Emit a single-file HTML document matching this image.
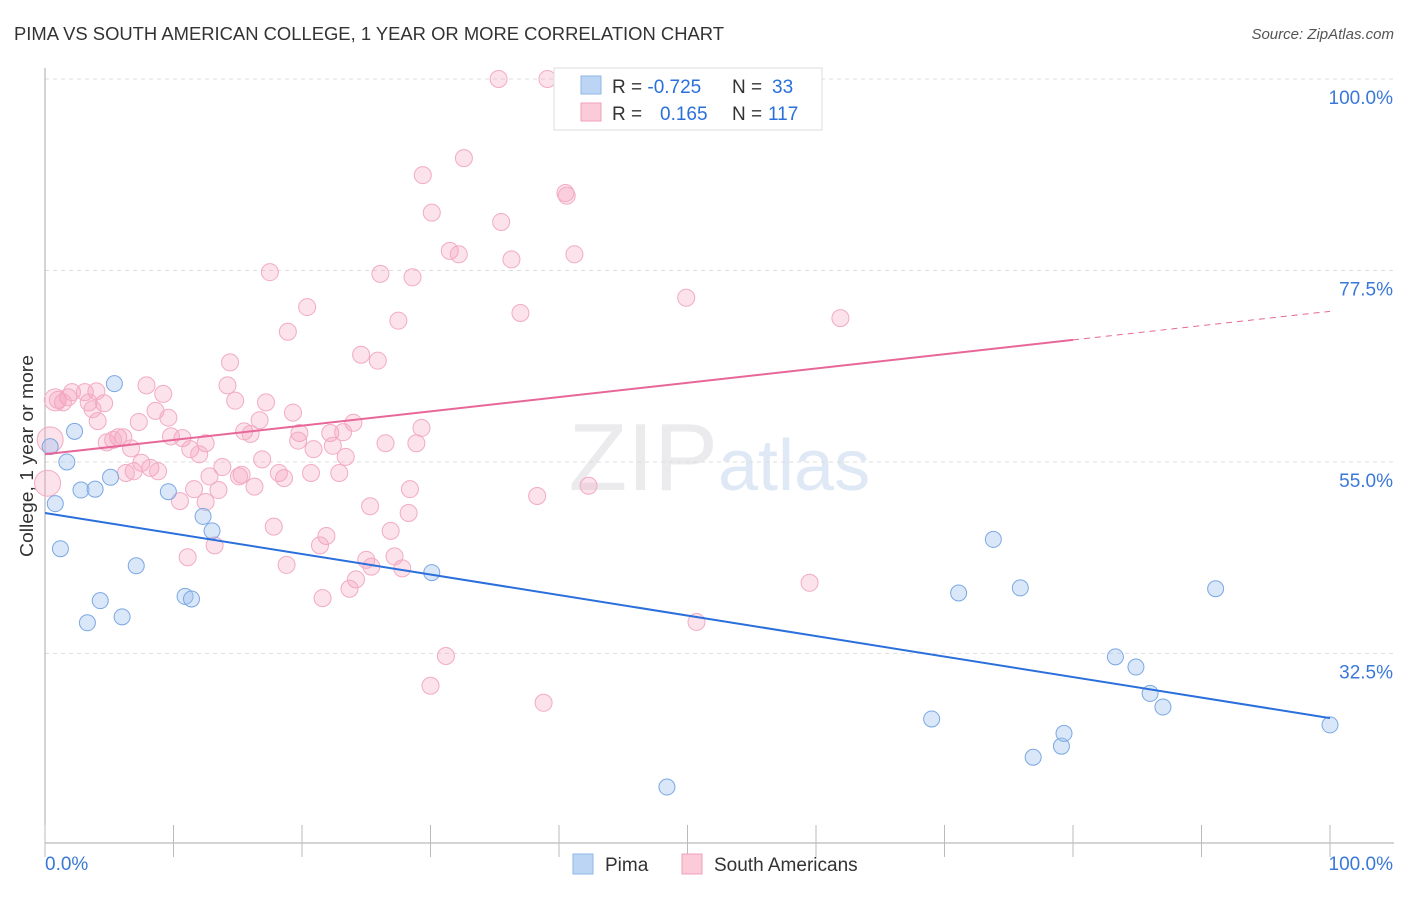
<!DOCTYPE html>
<html><head><meta charset="utf-8"><style>
body{margin:0;background:#fff;font-family:"Liberation Sans",sans-serif}
svg text{font-family:"Liberation Sans",sans-serif}
</style></head><body>
<svg id="chart" width="1406" height="892" xmlns="http://www.w3.org/2000/svg">
<text x="14" y="40" font-size="18" fill="#333" textLength="710" lengthAdjust="spacingAndGlyphs">PIMA VS SOUTH AMERICAN COLLEGE, 1 YEAR OR MORE CORRELATION CHART</text>
<text x="1394" y="39" font-size="15" fill="#555" font-style="italic" text-anchor="end">Source: ZipAtlas.com</text>
<text x="718" y="490" font-size="96" fill="#ebebee" text-anchor="end" font-family="Liberation Serif">ZIP</text>
<text x="718" y="490" font-size="72" fill="#dfe9f6">atlas</text>
<g id="grid"></g><g id="axes"></g><g id="pink"></g><g id="blue"></g><g id="lines"></g>
<text x="33" y="456" font-size="18" fill="#333" text-anchor="middle" transform="rotate(-90 33 456)" textLength="202" lengthAdjust="spacingAndGlyphs">College, 1 year or more</text>
<g>
<rect x="554" y="68" width="268" height="62" fill="#fff" stroke="#ddd"/>
<rect x="581" y="76" width="20" height="18" fill="#bcd5f5" stroke="#8fb6e8"/>
<rect x="581" y="103" width="20" height="18" fill="#fbcbd9" stroke="#f0a0ba"/>
<text x="612" y="93" font-size="19" fill="#333">R = <tspan fill="#2a6fdb">-0.725</tspan><tspan x="732">N = </tspan><tspan fill="#2a6fdb" x="772">33</tspan></text>
<text x="612" y="120" font-size="19" fill="#333">R = <tspan fill="#2a6fdb" x="660">0.165</tspan><tspan x="732">N = </tspan><tspan fill="#2a6fdb" x="768">117</tspan></text>
</g>
<g>
<rect x="573" y="854" width="20" height="20" fill="#bcd5f5" stroke="#8fb6e8"/>
<text x="605" y="871" font-size="19" fill="#333">Pima</text>
<rect x="682" y="854" width="20" height="20" fill="#fbcbd9" stroke="#f0a0ba"/>
<text x="714" y="871" font-size="19" fill="#333">South Americans</text>
</g>
</svg>
<script>
const blueX=[0.4,0.8,1.2,1.7,2.3,2.8,3.3,3.9,4.3,5.1,5.4,6.0,7.1,9.6,10.9,11.4,12.3,13.0,30.1,48.4,69.0,71.1,73.8,75.9,76.9,79.1,79.3,83.3,84.9,86.0,87.0,91.1,100];
const blueY=[56.8,50.1,44.8,55.0,58.6,51.7,36.1,51.8,38.7,53.2,64.2,36.8,42.8,51.5,39.2,38.9,48.6,46.9,42.0,16.8,24.8,39.6,45.9,40.2,20.3,21.6,23.1,32.1,30.9,27.8,26.2,40.1,24.1];
const pinkX=[35.3,39.1,32.6,29.4,40.5,40.6,30.1,35.5,31.5,32.2,36.3,41.2,17.5,26.1,28.6,49.9,20.4,37.0,27.5,61.9,18.9,24.6,25.9,14.4,7.9,14.2,9.2,4.0,2.1,3.1,1.8,1.0,1.4,3.4,4.6,14.8,17.2,8.6,3.7,19.3,9.6,24.0,16.7,4.1,7.3,29.3,15.5,16.0,19.8,22.2,23.2,5.7,6.1,9.8,10.7,12.5,4.8,5.3,19.7,26.5,28.9,6.7,11.3,12.0,20.9,22.4,23.4,16.9,7.5,13.8,6.9,8.2,8.8,12.8,15.3,18.2,20.7,6.3,15.1,18.6,22.9,11.6,13.5,16.3,28.4,38.3,42.3,10.5,12.5,25.3,28.3,17.8,26.9,21.9,21.4,13.2,11.1,25.0,27.2,18.8,25.4,27.8,24.2,23.7,21.6,59.5,50.7,31.2,30.0,38.8,0.4,0.8,0.2];
const pinkY=[100,100,90.7,88.7,86.6,86.3,84.3,83.2,79.8,79.4,78.8,79.4,77.3,77.1,76.7,74.3,73.2,72.5,71.6,71.9,70.3,67.6,66.9,66.7,64.0,64.0,63.0,63.3,63.2,63.2,62.6,62.3,62.0,62.0,61.9,62.2,62.0,61.0,61.2,60.8,60.2,59.6,59.9,59.8,59.7,59.0,58.6,58.3,58.4,58.4,58.5,57.9,57.9,58.0,57.8,57.2,57.3,57.6,57.5,57.2,57.2,56.6,56.5,55.9,56.5,56.9,55.6,55.3,54.9,54.4,53.9,54.3,53.9,53.3,53.5,53.7,53.7,53.7,53.3,53.1,53.7,51.8,51.7,52.1,51.8,51.0,52.2,50.4,50.3,49.8,49.0,47.4,46.9,46.3,45.2,45.2,43.8,43.5,43.9,42.9,42.7,42.5,41.2,40.1,39.0,40.8,36.2,32.2,28.7,26.7,57.6,62.3,52.5];
const yTicks=[100,77.5,55,32.5];
const yTickLabels=["100.0%","77.5%","55.0%","32.5%"];
const blueTrend=[49.0,24.9];
const pinkTrend=[55.9,72.7];
const pinkSolidEnd=80;
const NS="http://www.w3.org/2000/svg";
const sx=v=>45+v*12.85, sy=v=>79+(100-v)*8.51;
function mk(tag,attrs,parent){const e=document.createElementNS(NS,tag);for(const k in attrs)e.setAttribute(k,attrs[k]);document.getElementById(parent).appendChild(e);return e;}
yTicks.forEach((t,i)=>{
  const g=mk('line',{x1:45,x2:1394,y1:sy(t),y2:sy(t),stroke:'#ddd','stroke-dasharray':'4,4'},'grid');
  
  
  const l=mk('text',{x:1393,y:sy(t)+25,'font-size':19,fill:'#3a78d8','text-anchor':'end'},'grid');
  l.textContent=yTickLabels[i];
  
  
});
const ax=mk('line',{x1:45,x2:45,y1:68,y2:843,stroke:'#aaa'},'axes');


const bx=mk('line',{x1:45,x2:1394,y1:843,y2:843,stroke:'#aaa'},'axes');


for(let i=0;i<=10;i++){const t=mk('line',{x1:sx(i*10),x2:sx(i*10),y1:825,y2:857,stroke:'#bbb'},'axes');
  
  }
const xl0=mk('text',{x:45,y:870,'font-size':19,fill:'#3a78d8'},'axes');xl0.textContent='0.0%';


const xl1=mk('text',{x:1393,y:870,'font-size':19,fill:'#3a78d8','text-anchor':'end'},'axes');xl1.textContent='100.0%';


pinkX.forEach((x,i)=>{const r=i>=pinkX.length-3?(i==pinkX.length-2?11:13):8.5;
  const c=mk('circle',{cx:sx(x),cy:sy(pinkY[i]),r:r,fill:'rgba(245,160,190,0.3)',stroke:'#f2abc3','stroke-width':1},'pink');
  
  });
blueX.forEach((x,i)=>{const c=mk('circle',{cx:sx(x),cy:sy(blueY[i]),r:8,fill:'rgba(160,195,240,0.4)',stroke:'#7aa8e3','stroke-width':1},'blue');
  
  });
const bl=mk('line',{x1:sx(0),y1:sy(blueTrend[0]),x2:sx(100),y2:sy(blueTrend[1]),stroke:'#2a6fdb','stroke-width':2},'lines');


const pm=pinkTrend[0]+(pinkTrend[1]-pinkTrend[0])*pinkSolidEnd/100;
const pl=mk('line',{x1:sx(0),y1:sy(pinkTrend[0]),x2:sx(pinkSolidEnd),y2:sy(pm),stroke:'#e8679a','stroke-width':2},'lines');


const pd=mk('line',{x1:sx(pinkSolidEnd),y1:sy(pm),x2:sx(100),y2:sy(pinkTrend[1]),stroke:'#e8679a','stroke-width':1,'stroke-dasharray':'6,5'},'lines');


</script>
</body></html>
